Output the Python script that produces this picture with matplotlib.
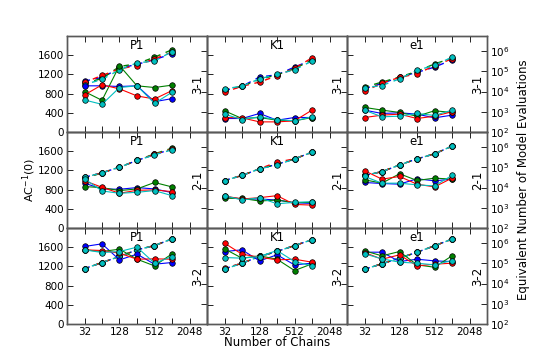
import numpy as np
import matplotlib
matplotlib.use("Agg")
import matplotlib.pyplot as plt
from matplotlib.ticker import FixedLocator, NullLocator, LogFormatterMathtext

chains = [32, 64, 128, 256, 512, 1024]
row_names = ["3-1", "2-1", "3-2"]
col_names = ["P1", "K1", "e1"]
colors = ["#0000ff", "#008000", "#ff0000", "#00bfbf"]  # blue, green, red, cyan

# AC^-1(0) values (solid lines), series b,g,r,c
ac = {
    ("3-1", "P1"): [[962, 962, 948, 962, 632, 695],
                    [842, 660, 1383, 962, 927, 976],
                    [772, 983, 899, 751, 688, 863],
                    [667, 576, 927, 962, 597, 828]],
    ("3-1", "K1"): [[281, 281, 386, 246, 302, 302],
                    [442, 281, 302, 246, 232, 302],
                    [302, 295, 211, 211, 232, 456],
                    [372, 260, 316, 260, 232, 316]],
    ("3-1", "e1"): [[456, 386, 400, 372, 295, 351],
                    [512, 456, 407, 330, 442, 407],
                    [302, 351, 372, 281, 330, 421],
                    [456, 316, 330, 386, 344, 456]],
    ("2-1", "P1"): [[934, 814, 807, 842, 814, 737],
                    [863, 842, 779, 814, 948, 856],
                    [983, 849, 723, 786, 793, 758],
                    [1025, 772, 723, 744, 779, 674]],
    ("2-1", "K1"): [[653, 604, 604, 583, 527, 512],
                    [618, 618, 562, 583, 527, 534],
                    [667, 604, 632, 674, 491, 477],
                    [674, 583, 632, 505, 534, 548]],
    ("2-1", "e1"): [[948, 927, 913, 1025, 983, 1018],
                    [1004, 934, 1130, 990, 1039, 1018],
                    [1193, 1018, 1074, 913, 856, 1039],
                    [1074, 934, 934, 899, 877, 1095]],
    ("3-2", "P1"): [[1615, 1670, 1336, 1455, 1246, 1281],
                    [1545, 1510, 1559, 1350, 1211, 1462],
                    [1545, 1531, 1476, 1350, 1357, 1350],
                    [1545, 1489, 1510, 1601, 1267, 1406]],
    ("3-2", "K1"): [[1510, 1545, 1315, 1441, 1232, 1267],
                    [1566, 1371, 1420, 1350, 1114, 1253],
                    [1684, 1455, 1392, 1336, 1350, 1288],
                    [1385, 1371, 1406, 1531, 1301, 1211]],
    ("3-2", "e1"): [[1496, 1496, 1301, 1350, 1315, 1301],
                    [1524, 1420, 1510, 1232, 1183, 1420],
                    [1489, 1350, 1441, 1211, 1246, 1267],
                    [1462, 1357, 1288, 1267, 1232, 1322]],
}

# log10 of equivalent number of model evaluations (dashed lines), series b,g,r,c
evals_exp = {
    ("3-1", "P1"): [[4.52, 4.70, 5.15, 5.35, 5.58, 5.87],
                    [4.40, 4.65, 5.24, 5.38, 5.70, 6.07],
                    [4.45, 4.80, 5.12, 5.29, 5.62, 5.95],
                    [4.35, 4.60, 5.08, 5.42, 5.51, 5.98]],
    ("3-1", "K1"): [[4.06, 4.26, 4.72, 4.83, 5.21, 5.57],
                    [4.10, 4.26, 4.60, 4.83, 5.13, 5.57],
                    [3.98, 4.26, 4.47, 4.78, 5.15, 5.67],
                    [4.14, 4.26, 4.63, 4.85, 5.08, 5.51]],
    ("3-1", "e1"): [[4.15, 4.40, 4.72, 4.95, 5.21, 5.57],
                    [4.22, 4.47, 4.72, 5.00, 5.37, 5.65],
                    [4.01, 4.42, 4.70, 4.88, 5.28, 5.62],
                    [4.19, 4.30, 4.63, 5.05, 5.30, 5.70]],
    ("2-1", "P1"): [[4.51, 4.73, 5.01, 5.34, 5.64, 5.90],
                    [4.45, 4.73, 5.01, 5.34, 5.67, 5.95],
                    [4.51, 4.73, 5.01, 5.34, 5.64, 5.90],
                    [4.51, 4.73, 5.01, 5.34, 5.62, 5.87]],
    ("2-1", "K1"): [[4.35, 4.60, 4.93, 5.15, 5.42, 5.75],
                    [4.35, 4.60, 4.93, 5.15, 5.42, 5.75],
                    [4.35, 4.60, 4.93, 5.26, 5.42, 5.75],
                    [4.35, 4.60, 4.93, 5.12, 5.42, 5.75]],
    ("2-1", "e1"): [[4.60, 4.79, 5.12, 5.42, 5.67, 6.05],
                    [4.60, 4.79, 5.12, 5.42, 5.67, 6.05],
                    [4.60, 4.79, 5.12, 5.42, 5.67, 6.05],
                    [4.60, 4.79, 5.12, 5.42, 5.67, 6.05]],
    ("3-2", "P1"): [[4.74, 5.04, 5.34, 5.67, 5.88, 6.21],
                    [4.74, 5.04, 5.34, 5.67, 5.88, 6.21],
                    [4.74, 5.04, 5.34, 5.67, 5.88, 6.21],
                    [4.74, 5.04, 5.34, 5.67, 5.88, 6.21]],
    ("3-2", "K1"): [[4.73, 5.01, 5.34, 5.59, 5.88, 6.17],
                    [4.73, 5.01, 5.34, 5.59, 5.88, 6.17],
                    [4.76, 5.01, 5.34, 5.59, 5.88, 6.17],
                    [4.71, 5.01, 5.34, 5.59, 5.88, 6.17]],
    ("3-2", "e1"): [[4.71, 4.98, 5.26, 5.55, 5.87, 6.20],
                    [4.71, 4.98, 5.26, 5.55, 5.87, 6.20],
                    [4.71, 4.98, 5.26, 5.55, 5.87, 6.20],
                    [4.71, 4.98, 5.26, 5.55, 5.87, 6.20]],
}

xticks_all = [32, 64, 128, 256, 512, 1024, 2048]
xtick_labels = {32: "32", 128: "128", 512: "512", 2048: "2048"}
left_ticks = [0, 400, 800, 1200, 1600]
right_ticks = [1e2, 1e3, 1e4, 1e5, 1e6]

W, H = 540, 360
fig = plt.figure(figsize=(5.4, 3.6), dpi=100)
col_left = [67, 207, 347]
row_top = [36, 132, 228]
aw, ah = 140, 96

for ri, rname in enumerate(row_names):
    for ci, cname in enumerate(col_names):
        rect = [col_left[ci] / W, 1 - (row_top[ri] + ah) / H, aw / W, ah / H]
        ax = fig.add_axes(rect)
        ax2 = ax.twinx()
        ax.set_xscale("log", base=2)
        ax.set_xlim(16, 4096)
        ax.set_ylim(0, 2000)
        ax2.set_yscale("log")
        ax2.set_ylim(1e2, 10 ** 6.75)

        key = (rname, cname)
        for si, col in enumerate(colors):
            vals = 10 ** np.array(evals_exp[key][si])
            ax2.plot(chains, vals, color=col, lw=1.0,
                     linestyle=(si * 0.8, (4, 4)), marker="o", ms=4,
                     mec="black", mew=0.5, zorder=2 + si)
        for si, col in enumerate(colors):
            ax.plot(chains, ac[key][si], color=col, lw=0.8, marker="o", ms=4,
                    mec="black", mew=0.5, zorder=3 + si)
        ax.set_zorder(ax2.get_zorder() + 1)
        ax.patch.set_visible(False)

        ax.xaxis.set_major_locator(FixedLocator(xticks_all))
        ax.xaxis.set_minor_locator(NullLocator())
        if ri == 2:
            ax.set_xticklabels([xtick_labels.get(t, "") for t in xticks_all], fontsize=7.5)
        else:
            ax.set_xticklabels([])
        ax.set_yticks(left_ticks)
        if ci == 0:
            ax.set_yticklabels([str(t) for t in left_ticks], fontsize=7.5)
        else:
            ax.set_yticklabels([])
        ax.tick_params(axis="both", direction="in", length=4, width=0.6,
                       top=True, right=False, pad=2)

        ax2.set_yticks(right_ticks)
        ax2.yaxis.set_minor_locator(NullLocator())
        if ci == 2:
            ax2.yaxis.set_major_formatter(LogFormatterMathtext())
        else:
            ax2.set_yticklabels([])
        ax2.tick_params(axis="y", direction="in", length=4, width=0.6, pad=2,
                        labelsize=7.5)

        for a in (ax, ax2):
            for sp in a.spines.values():
                sp.set_color("0.35")
                sp.set_linewidth(1.0)

        ax.text(0.5, 0.905, cname, transform=ax.transAxes, ha="center",
                va="center", fontsize=8.5)
        ax.text(0.935, 0.5, rname, transform=ax.transAxes, ha="center",
                va="center", rotation=90, fontsize=8.5)

fig.text(277 / W, 1 - 343 / H, "Number of Chains", ha="center", va="center", fontsize=8.5)
fig.text(29 / W, 1 - 180 / H, r"AC$^{-1}$(0)", ha="center", va="center", rotation=90, fontsize=8)
fig.text(524 / W, 1 - 180 / H, "Equivalent Number of Model Evaluations", ha="center",
         va="center", rotation=90, fontsize=8.5)

fig.savefig("out.png", dpi=100)
